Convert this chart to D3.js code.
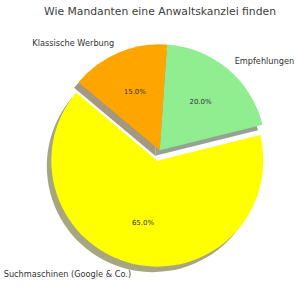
<!DOCTYPE html>
<html>
<head>
<meta charset="utf-8">
<script src="https://cdn.jsdelivr.net/npm/d3@7"></script>
<style>
  body { margin: 0; background: #fff; }
  text { font-family: "DejaVu Sans", sans-serif; fill: #333; }
</style>
</head>
<body>
<div id="container"></div>
<script>
/* DATA */
const labels = ["Suchmaschinen (Google & Co.)", "Empfehlungen", "Klassische Werbung"];
const shares = [65, 20, 15];
const colors = ["#ffff00", "#90ee90", "#ffa500"];
const explode = [0.1, 0, 0];

/* CONSTANTS */
const width = 300, height = 287,
  cx = 159.7, cy = 150.3,
  radius = 106,
  shadowDx = -4.5, shadowDy = 5.5;

// matplotlib startangle 140, counterclockwise -> d3 angles (0 = 12 o'clock, clockwise)
const start = (90 - 140) * Math.PI / 180;

const pie = d3.pie()
  .sort(null)
  .startAngle(start)
  .endAngle(start - 2 * Math.PI)
  .value(d => d);

const arcs = pie(shares);
const arc = d3.arc().innerRadius(0).outerRadius(radius);

const mid = d => (d.startAngle + d.endAngle) / 2;
const offset = (d, k) => [Math.sin(mid(d)) * k, -Math.cos(mid(d)) * k];

const shadowColor = c => {
  const rgb = d3.rgb(c);
  // facecolor * 0.3 at alpha 0.5 over white
  return d3.rgb(rgb.r * 0.15 + 127.5, rgb.g * 0.15 + 127.5, rgb.b * 0.15 + 127.5);
};

const svg = d3.select("#container")
  .append("svg")
  .attr("width", width)
  .attr("height", height);

const g = svg.append("g")
  .attr("transform", `translate(${cx},${cy})`);

// shadows
g.selectAll(".shadow")
  .data(arcs)
  .join("path")
  .attr("class", "shadow")
  .attr("d", arc)
  .attr("fill", (d, i) => shadowColor(colors[i]))
  .attr("transform", (d, i) => {
    const [ox, oy] = offset(d, explode[i] * radius);
    return `translate(${ox + shadowDx},${oy + shadowDy})`;
  });

// wedges
g.selectAll(".wedge")
  .data(arcs)
  .join("path")
  .attr("class", "wedge")
  .attr("d", arc)
  .attr("fill", (d, i) => colors[i])
  .attr("transform", (d, i) => {
    const [ox, oy] = offset(d, explode[i] * radius);
    return `translate(${ox},${oy})`;
  });

// outer labels at 1.1 r
g.selectAll(".label")
  .data(arcs)
  .join("text")
  .attr("class", "label")
  .attr("x", (d, i) => offset(d, (1.1 + explode[i]) * radius)[0])
  .attr("y", (d, i) => offset(d, (1.1 + explode[i]) * radius)[1])
  .attr("dy", "0.35em")
  .attr("text-anchor", d => Math.sin(mid(d)) < 0 ? "end" : "start")
  .style("font-size", "8.2px")
  .text((d, i) => labels[i]);

// percentages at 0.6 r
g.selectAll(".pct")
  .data(arcs)
  .join("text")
  .attr("class", "pct")
  .attr("x", (d, i) => offset(d, (0.6 + explode[i]) * radius)[0])
  .attr("y", (d, i) => offset(d, (0.6 + explode[i]) * radius)[1])
  .attr("dy", "0.35em")
  .attr("text-anchor", "middle")
  .style("font-size", "7px")
  .text(d => d3.format(".1f")(d.data) + "%");

svg.append("text")
  .attr("x", 160)
  .attr("y", 14.5)
  .attr("text-anchor", "middle")
  .style("font-size", "10.8px")
  .style("fill", "#404040")
  .text("Wie Mandanten eine Anwaltskanzlei finden");
</script>
</body>
</html>
